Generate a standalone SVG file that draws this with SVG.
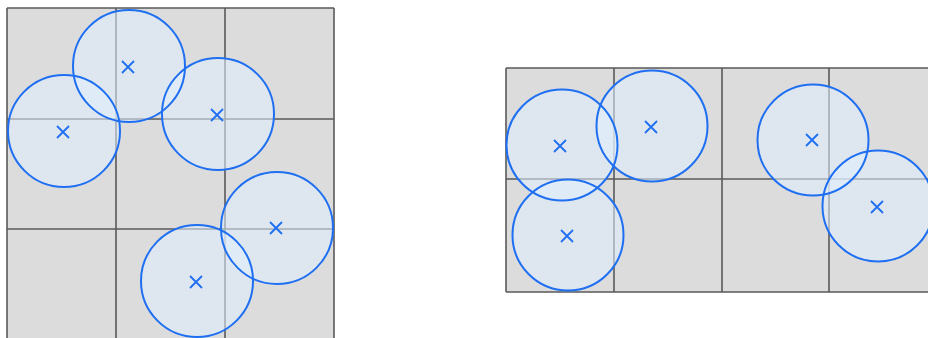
<svg xmlns="http://www.w3.org/2000/svg" width="928" height="338" viewBox="0 0 928 338">
<style>
.cell{fill:#dcdcdc;stroke:none}
.grid{stroke:#5a5a5a;stroke-width:1.6;fill:none}
.f{fill:#e0f0ff;fill-opacity:0.55;stroke:none}
.c{fill:none;stroke:#1f6ff2;stroke-width:2}
.x{stroke:#1f6ff2;stroke-width:1.8;fill:none}
</style>
<defs>
<path id="xm" d="M-6,-6L6,6M6,-6L-6,6"/>
<circle id="dl" r="56"/>
<circle id="dr" r="55.5"/>
</defs>
<rect width="928" height="338" fill="#ffffff"/>
<g id="grid-left">
<rect class="cell" x="7" y="8" width="327" height="340"/>
<path class="grid" d="M7,8V348M116,8V348M225,8V348M334,8V348M7,8H334M7,119H334M7,229H334"/>
</g>
<g id="grid-right">
<rect class="cell" x="506" y="68" width="440" height="224"/>
<path class="grid" d="M506,68V292M614,68V292M722,68V292M829,68V292M506,68H946M506,179H946M506,292H946"/>
</g>
<g id="fills">
<use href="#dl" class="f" x="64" y="131"/>
<use href="#dl" class="f" x="129" y="66"/>
<use href="#dl" class="f" x="218" y="114"/>
<use href="#dl" class="f" x="277" y="228"/>
<use href="#dl" class="f" x="197" y="281"/>
<use href="#dr" class="f" x="562" y="145"/>
<use href="#dr" class="f" x="652" y="126"/>
<use href="#dr" class="f" x="568" y="235"/>
<use href="#dr" class="f" x="813" y="140"/>
<use href="#dr" class="f" x="878" y="206"/>
</g>
<g id="circles-left">
<g id="l1"><use href="#dl" class="c" x="64" y="131"/><use href="#xm" class="x" x="63" y="132"/></g>
<g id="l2"><use href="#dl" class="c" x="129" y="66"/><use href="#xm" class="x" x="128" y="67"/></g>
<g id="l3"><use href="#dl" class="c" x="218" y="114"/><use href="#xm" class="x" x="217" y="115"/></g>
<g id="l4"><use href="#dl" class="c" x="277" y="228"/><use href="#xm" class="x" x="276" y="228"/></g>
<g id="l5"><use href="#dl" class="c" x="197" y="281"/><use href="#xm" class="x" x="196" y="282"/></g>
</g>
<g id="circles-right">
<g id="r1"><use href="#dr" class="c" x="562" y="145"/><use href="#xm" class="x" x="560" y="146"/></g>
<g id="r2"><use href="#dr" class="c" x="652" y="126"/><use href="#xm" class="x" x="651" y="127"/></g>
<g id="r3"><use href="#dr" class="c" x="568" y="235"/><use href="#xm" class="x" x="567" y="236"/></g>
<g id="r4"><use href="#dr" class="c" x="813" y="140"/><use href="#xm" class="x" x="812" y="140"/></g>
<g id="r5"><use href="#dr" class="c" x="878" y="206"/><use href="#xm" class="x" x="877" y="207"/></g>
</g>
<g id="connectors"></g>
</svg>
